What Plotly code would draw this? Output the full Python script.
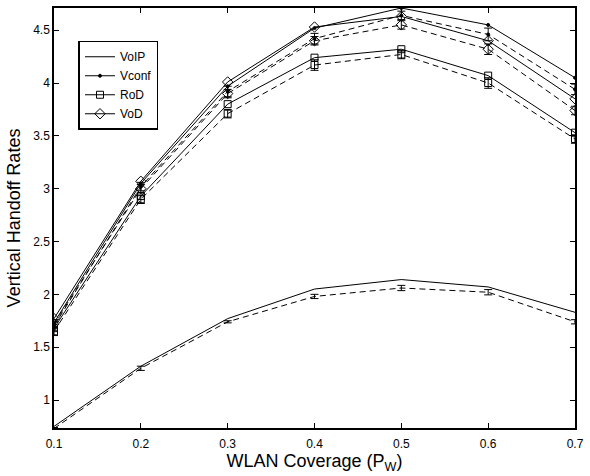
import plotly.graph_objects as go

coverage = [0.1, 0.2, 0.3, 0.4, 0.5, 0.6, 0.7]

# analytic (solid) and simulation (dashed) values
voip_model = [0.75, 1.32, 1.77, 2.05, 2.14, 2.07, 1.83]
voip_sim = [0.73, 1.30, 1.74, 1.98, 2.06, 2.02, 1.74]
voip_err = [0.01, 0.02, 0.01, 0.02, 0.025, 0.025, 0.02]

vconf_model = [1.73, 3.05, 3.97, 4.52, 4.71, 4.55, 4.05]
vconf_sim = [1.70, 3.02, 3.92, 4.42, 4.64, 4.46, 3.94]
vconf_err = [0.04, 0.04, 0.05, 0.05, 0.04, 0.06, 0.05]

rod_model = [1.68, 2.93, 3.80, 4.24, 4.32, 4.07, 3.53]
rod_sim = [1.65, 2.90, 3.71, 4.17, 4.27, 4.00, 3.47]
rod_err = [0.04, 0.04, 0.04, 0.05, 0.04, 0.05, 0.04]

vod_model = [1.77, 3.07, 4.01, 4.53, 4.63, 4.40, 3.85]
vod_sim = [1.72, 3.00, 3.90, 4.40, 4.55, 4.32, 3.74]
vod_err = [0.04, 0.04, 0.04, 0.04, 0.04, 0.05, 0.04]

fig = go.Figure()

series = [
    ("VoIP", voip_model, voip_sim, voip_err, None, 0),
    ("Vconf", vconf_model, vconf_sim, vconf_err, "circle", 3),
    ("RoD", rod_model, rod_sim, rod_err, "square-open", 7),
    ("VoD", vod_model, vod_sim, vod_err, "diamond-open", 8),
]

for name, model, sim, err, sym, msize in series:
    mode = "lines" if sym is None else "lines+markers"
    mk = dict(color="black", size=msize, symbol=sym, line=dict(color="black", width=1)) if sym else None
    fig.add_trace(go.Scatter(
        x=coverage, y=model, name=name, mode=mode,
        line=dict(color="black", width=1), marker=mk, showlegend=True,
    ))
    fig.add_trace(go.Scatter(
        x=coverage, y=sim, name=name + " sim", mode=mode,
        line=dict(color="black", width=1, dash="6px,4px"), marker=mk,
        error_y=dict(type="data", array=err, color="black", thickness=1, width=4),
        showlegend=False,
    ))

axis_common = dict(
    showgrid=False, zeroline=False, showline=True, linecolor="black", linewidth=1.5,
    mirror="allticks", ticks="inside", ticklen=5, tickcolor="black",
    tickfont=dict(family="Liberation Sans, Arial", size=12, color="black"),
    ticklabeloverflow="allow",
)

fig.update_layout(
    width=590, height=476,
    margin=dict(l=54, r=6, t=6, b=48),
    paper_bgcolor="white", plot_bgcolor="white",
    font=dict(family="Liberation Sans, Arial", color="black"),
    xaxis=dict(range=[0.1, 0.7], tickvals=coverage, ticktext=["0.1", "0.2", "0.3", "0.4", "0.5", "0.6", "0.7"],
               ticklabelstandoff=4,
               title=dict(text="WLAN Coverage (P<sub>W</sub>)", font=dict(size=18), standoff=1), **axis_common),
    yaxis=dict(range=[0.735, 4.71], tickvals=[1, 1.5, 2, 2.5, 3, 3.5, 4, 4.5],
               title=dict(text="Vertical Handoff Rates", font=dict(size=18), standoff=8), **axis_common),
    legend=dict(x=0.047, y=0.922, xanchor="left", yanchor="top",
                bordercolor="black", borderwidth=1.5, bgcolor="white",
                font=dict(size=12), tracegroupgap=0, itemwidth=30),
    showlegend=True,
)

fig.write_html("out.html")
